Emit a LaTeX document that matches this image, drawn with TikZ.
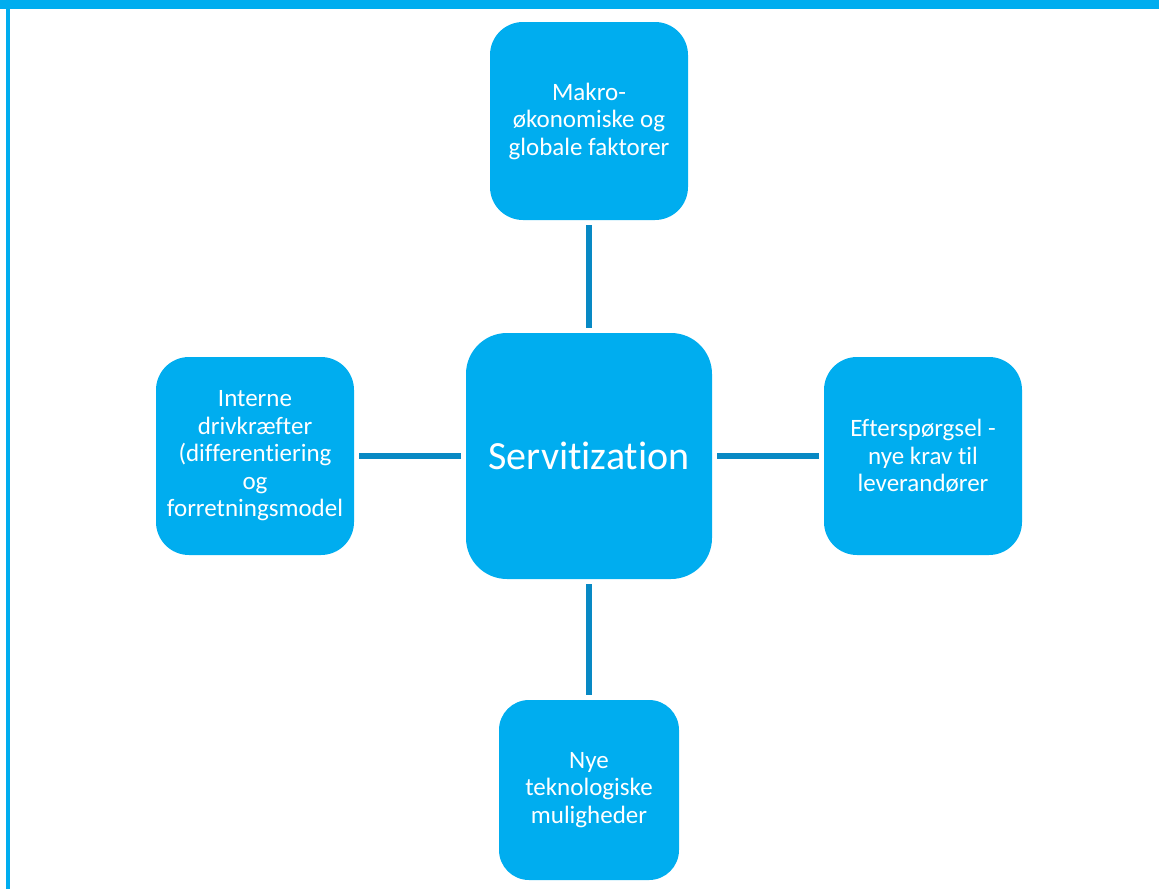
\documentclass[tikz,border=0pt]{standalone}
\usepackage{fontspec}
\setmainfont[Ligatures={NoCommon}]{Carlito}
\definecolor{boxblue}{RGB}{0,173,239}
\definecolor{linkblue}{RGB}{8,137,196}

\tikzset{
  factor/.style={fill=boxblue, rounded corners=33pt, minimum width=198pt,
    minimum height=198pt, inner sep=0pt, text=white, align=center,
    font=\fontsize{25}{27.5}\selectfont},
  link/.style={draw=linkblue, line width=6pt, shorten <=5pt, shorten >=5pt}
}

\begin{document}
\begin{tikzpicture}[x=1pt,y=-1pt]
\useasboundingbox (0,0) rectangle (1159,889);
\fill[boxblue] (0,0) rectangle (1159,9);
\fill[boxblue] (6,0) rectangle (10,889);
\node[factor, minimum width=246pt, minimum height=246pt, rounded corners=41pt,
  font=\fontsize{40}{48}\selectfont] (servitization) at (589,456) {Servitization};
\node[factor] (makro) at (589,121) {Makro-\\økonomiske og\\globale faktorer};
\node[factor] (interne) at (255,456) {Interne\\drivkræfter\\(differentiering\\og\\forretningsmodel};
\node[factor] (efterspoergsel) at (923,456) {Efterspørgsel -\\nye krav til\\leverandører};
\node[factor, minimum width=180pt, minimum height=180pt, rounded corners=30pt] (teknologi) at (589,790) {Nye\\teknologiske\\muligheder};
\draw[link] (makro) -- (servitization);
\draw[link] (servitization) -- (teknologi);
\draw[link] (interne) -- (servitization);
\draw[link] (servitization) -- (efterspoergsel);
\end{tikzpicture}
\end{document}
